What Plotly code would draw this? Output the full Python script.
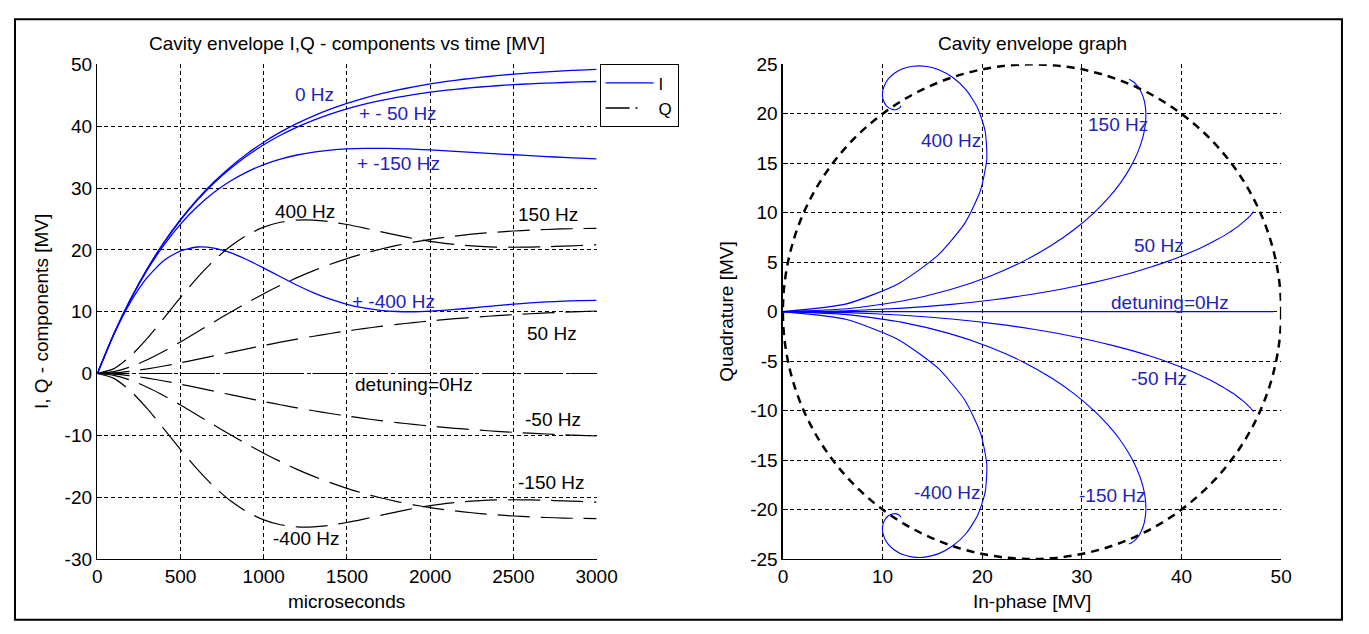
import plotly.graph_objects as go

# ---------------- data ----------------
t_us = [0, 100, 200, 300, 400, 500, 600, 700, 800, 900, 1000, 1100, 1200, 1300, 1400, 1500,
        1600, 1700, 1800, 1900, 2000, 2100, 2200, 2300, 2400, 2500, 2600, 2700, 2800, 2900, 3000]

I_0hz = [0, 6.44, 12.05, 16.94, 21.20, 24.91, 28.14, 30.96, 33.41, 35.55, 37.41, 39.03, 40.45, 41.68,
         42.75, 43.68, 44.50, 45.21, 45.82, 46.36, 46.83, 47.24, 47.59, 47.90, 48.17, 48.41, 48.61,
         48.79, 48.95, 49.08, 49.20]
Q_0hz = [0, 0, 0, 0, 0, 0, 0, 0, 0, 0, 0, 0, 0, 0, 0, 0, 0, 0, 0, 0, 0, 0, 0, 0, 0, 0, 0, 0, 0, 0, 0]

I_50hz = [0, 6.44, 12.05, 16.92, 21.15, 24.83, 28.01, 30.77, 33.15, 35.22, 37.00, 38.53, 39.85, 40.99,
          41.97, 42.81, 43.52, 44.14, 44.67, 45.12, 45.50, 45.83, 46.10, 46.34, 46.54, 46.71, 46.85,
          46.97, 47.07, 47.16, 47.23]
Q_p50hz = [0, 0.10, 0.36, 0.74, 1.21, 1.73, 2.29, 2.86, 3.43, 3.99, 4.54, 5.06, 5.56, 6.03, 6.47, 6.88,
           7.26, 7.61, 7.94, 8.23, 8.50, 8.75, 8.97, 9.17, 9.35, 9.52, 9.66, 9.79, 9.91, 10.02, 10.11]
Q_m50hz = [0, -0.10, -0.36, -0.74, -1.21, -1.73, -2.29, -2.86, -3.43, -3.99, -4.54, -5.06, -5.56, -6.03,
           -6.47, -6.88, -7.26, -7.61, -7.94, -8.23, -8.50, -8.75, -8.97, -9.17, -9.35, -9.52, -9.66,
           -9.79, -9.91, -10.02, -10.11]

I_150hz = [0, 6.43, 11.99, 16.74, 20.77, 24.15, 26.96, 29.27, 31.13, 32.62, 33.79, 34.68, 35.34, 35.81,
           36.13, 36.32, 36.41, 36.42, 36.37, 36.28, 36.16, 36.01, 35.86, 35.70, 35.53, 35.38, 35.23,
           35.08, 34.95, 34.83, 34.72]
Q_p150hz = [0, 0.30, 1.08, 2.22, 3.59, 5.11, 6.71, 8.33, 9.92, 11.45, 12.90, 14.26, 15.50, 16.64, 17.66,
            18.58, 19.39, 20.10, 20.71, 21.24, 21.69, 22.07, 22.39, 22.66, 22.87, 23.05, 23.19, 23.29,
            23.38, 23.44, 23.48]
Q_m150hz = [0, -0.30, -1.08, -2.22, -3.59, -5.11, -6.71, -8.33, -9.92, -11.45, -12.90, -14.26, -15.50,
            -16.64, -17.66, -18.58, -19.39, -20.10, -20.71, -21.24, -21.69, -22.07, -22.39, -22.66,
            -22.87, -23.05, -23.19, -23.29, -23.38, -23.44, -23.48]

I_400hz = [0, 6.38, 11.59, 15.54, 18.26, 19.84, 20.46, 20.29, 19.54, 18.40, 17.05, 15.64, 14.27, 13.05,
           12.01, 11.19, 10.60, 10.22, 10.03, 9.99, 10.08, 10.25, 10.47, 10.72, 10.97, 11.21, 11.41,
           11.57, 11.70, 11.79, 11.84]
Q_p400hz = [0, 0.79, 2.83, 5.69, 8.95, 12.30, 15.46, 18.27, 20.59, 22.40, 23.67, 24.46, 24.81, 24.81,
            24.55, 24.10, 23.55, 22.95, 22.37, 21.83, 21.37, 21.01, 20.73, 20.55, 20.45, 20.42, 20.44,
            20.51, 20.60, 20.70, 20.81]
Q_m400hz = [0, -0.79, -2.83, -5.69, -8.95, -12.30, -15.46, -18.27, -20.59, -22.40, -23.67, -24.46,
            -24.81, -24.81, -24.55, -24.10, -23.55, -22.95, -22.37, -21.83, -21.37, -21.01, -20.73,
            -20.55, -20.45, -20.42, -20.44, -20.51, -20.60, -20.70, -20.81]

# dashed reference circle in the I/Q plane (centre, radius) [MV]
circle_center = [25, 0]
circle_radius = 25

# tick values / labels
x1_ticks = [0, 500, 1000, 1500, 2000, 2500, 3000]
x1_labels = ["0", "500", "1000", "1500", "2000", "2500", "3000"]
y1_ticks = [-30, -20, -10, 0, 10, 20, 30, 40, 50]
y1_labels = ["-30", "-20", "-10", "0", "10", "20", "30", "40", "50"]
x2_ticks = [0, 10, 20, 30, 40, 50]
x2_labels = ["0", "10", "20", "30", "40", "50"]
y2_ticks = [-25, -20, -15, -10, -5, 0, 5, 10, 15, 20, 25]
y2_labels = ["-25", "-20", "-15", "-10", "-5", "0", "5", "10", "15", "20", "25"]

# curve labels: (text, x, y)
left_blue_labels = [("0 Hz", 1175, 45.1), ("+ - 50 Hz", 1560, 42.0),
                    ("+ -150 Hz", 1546, 34.0), ("+ -400 Hz", 1521, 11.6)]
left_black_labels = [("400 Hz", 1058, 26.2), ("150 Hz", 2515, 25.7), ("50 Hz", 2568, 6.5),
                     ("detuning=0Hz", 1536, -1.8), ("-50 Hz", 2558, -7.4),
                     ("-150 Hz", 2515, -17.7), ("-400 Hz", 1042, -26.7)]
right_labels = [("400 Hz", 13.7, 17.3), ("150 Hz", 30.4, 18.9), ("50 Hz", 35.0, 6.7),
                ("detuning=0Hz", 32.7, 0.9), ("-50 Hz", 34.7, -6.8),
                ("-150 Hz", 29.5, -18.6), ("-400 Hz", 13.0, -18.3)]

# ---------------- styling ----------------
PAGE_W, PAGE_H = 1369, 634
OFF = 8                      # default body margin of the page
W, H = PAGE_W - 2 * OFF, PAGE_H - 2 * OFF
FONT = "Liberation Sans, Arial, Helvetica, sans-serif"
BLUE = "#0000ff"
TEXT_BLUE = "#2222bb"
Q_DASH = "32px,11px"
FS = 19


def PX(px):
    return (px - OFF) / W


def PY(py):
    return 1 - (py - OFF) / H


fig = go.Figure()

# left: I components (blue solid)
I_sets = [I_0hz, I_50hz, I_150hz, I_400hz]
for k, ys in enumerate(I_sets):
    fig.add_trace(go.Scatter(x=t_us, y=ys, mode="lines", name="I", showlegend=(k == 0),
                             line=dict(color=BLUE, width=1.3, shape="spline", smoothing=0.6),
                             xaxis="x", yaxis="y"))
# legend-only sample for Q (dash-dot)
fig.add_trace(go.Scatter(x=[None], y=[None], mode="lines", name="Q", showlegend=True,
                         line=dict(color="black", width=1.3, dash="24px,6px,2px,100px"),
                         xaxis="x", yaxis="y"))
# left: Q components (black dash-dot)
Q_sets = [Q_0hz, Q_p50hz, Q_m50hz, Q_p150hz, Q_m150hz, Q_p400hz, Q_m400hz]
for ys in Q_sets:
    fig.add_trace(go.Scatter(x=t_us, y=ys, mode="lines", showlegend=False,
                             line=dict(color="black", width=1.2, dash=Q_DASH, shape="spline",
                                       smoothing=0.6),
                             xaxis="x", yaxis="y"))

# right: I/Q plane trajectories
pairs = [(I_0hz, Q_0hz), (I_50hz, Q_p50hz), (I_50hz, Q_m50hz), (I_150hz, Q_p150hz),
         (I_150hz, Q_m150hz), (I_400hz, Q_p400hz), (I_400hz, Q_m400hz)]
for xs, ys in pairs:
    fig.add_trace(go.Scatter(x=xs, y=ys, mode="lines", showlegend=False,
                             line=dict(color=BLUE, width=1.1, shape="spline", smoothing=0.6),
                             xaxis="x2", yaxis="y2"))

# dashed circle
fig.add_shape(type="circle", xref="x2", yref="y2",
              x0=circle_center[0] - circle_radius, x1=circle_center[0] + circle_radius,
              y0=circle_center[1] - circle_radius, y1=circle_center[1] + circle_radius,
              line=dict(color="black", width=2.5, dash="8px,6px"))

ann = []
for txt, x, y in left_blue_labels:
    ann.append(dict(text=txt, x=x, y=y, xref="x", yref="y", xanchor="left", yanchor="middle",
                    showarrow=False, font=dict(color=TEXT_BLUE, size=FS, family=FONT)))
for txt, x, y in left_black_labels:
    ann.append(dict(text=txt, x=x, y=y, xref="x", yref="y", xanchor="left", yanchor="middle",
                    showarrow=False, font=dict(color="black", size=FS, family=FONT)))
for txt, x, y in right_labels:
    ann.append(dict(text=txt, x=x, y=y, xref="x2", yref="y2", xanchor="left", yanchor="middle",
                    showarrow=False, font=dict(color=TEXT_BLUE, size=FS, family=FONT)))

L1, R1 = PX(94), PX(603)
L2, R2 = PX(793), PX(1301)
B, T = PY(568), PY(56)


def txt_ann(text, px, py, angle=0):
    return dict(text=text, x=PX(px), y=PY(py), xref="paper", yref="paper",
                xanchor="center", yanchor="middle", showarrow=False, textangle=angle,
                font=dict(color="black", size=FS, family=FONT))


ann += [txt_ann("Cavity envelope I,Q - components vs time [MV]", 349, 34),
        txt_ann("Cavity envelope graph", 1047, 34),
        txt_ann("microseconds", 348, 612),
        txt_ann("In-phase [MV]", 1047, 612),
        txt_ann("I, Q - components [MV]", 37, 312, -90),
        txt_ann("Quadrature [MV]", 736, 312, -90)]

axis_common = dict(showgrid=True, gridcolor="black", gridwidth=1, griddash="4px,3px",
                   showline=True, linecolor="black", linewidth=1.5, mirror=False,
                   ticks="inside", ticklen=5, tickcolor="black", zeroline=False,
                   tickfont=dict(size=FS, color="black", family=FONT), fixedrange=True)

fig.update_layout(
    width=W, height=H, margin=dict(l=0, r=0, t=0, b=0),
    paper_bgcolor="white", plot_bgcolor="white",
    font=dict(family=FONT, size=FS, color="black"),
    xaxis=dict(domain=[L1, R1], range=[0, 3000], anchor="y", tickvals=x1_ticks,
               ticktext=x1_labels, **axis_common),
    yaxis=dict(domain=[B, T], range=[-30, 50], anchor="x", tickvals=y1_ticks,
               ticktext=y1_labels, **axis_common),
    xaxis2=dict(domain=[L2, R2], range=[0, 50], anchor="y2", tickvals=x2_ticks,
                ticktext=x2_labels, **axis_common),
    yaxis2=dict(domain=[B, T], range=[-25, 25], anchor="x2", tickvals=y2_ticks,
                ticktext=y2_labels, **axis_common),
    legend=dict(x=PX(606), y=T, xanchor="left", yanchor="top", bgcolor="white",
                bordercolor="black", borderwidth=1, font=dict(size=17, family=FONT),
                tracegroupgap=0, itemwidth=48, entrywidth=82, entrywidthmode="pixels"),
    annotations=ann,
    showlegend=True,
)

# outer frame
fig.add_shape(type="rect", xref="paper", yref="paper", x0=0.0015, x1=PX(1363),
              y0=PY(631), y1=0.998, line=dict(color="black", width=2), layer="below")

fig.write_html("out.html", config={"displayModeBar": False, "staticPlot": True})
